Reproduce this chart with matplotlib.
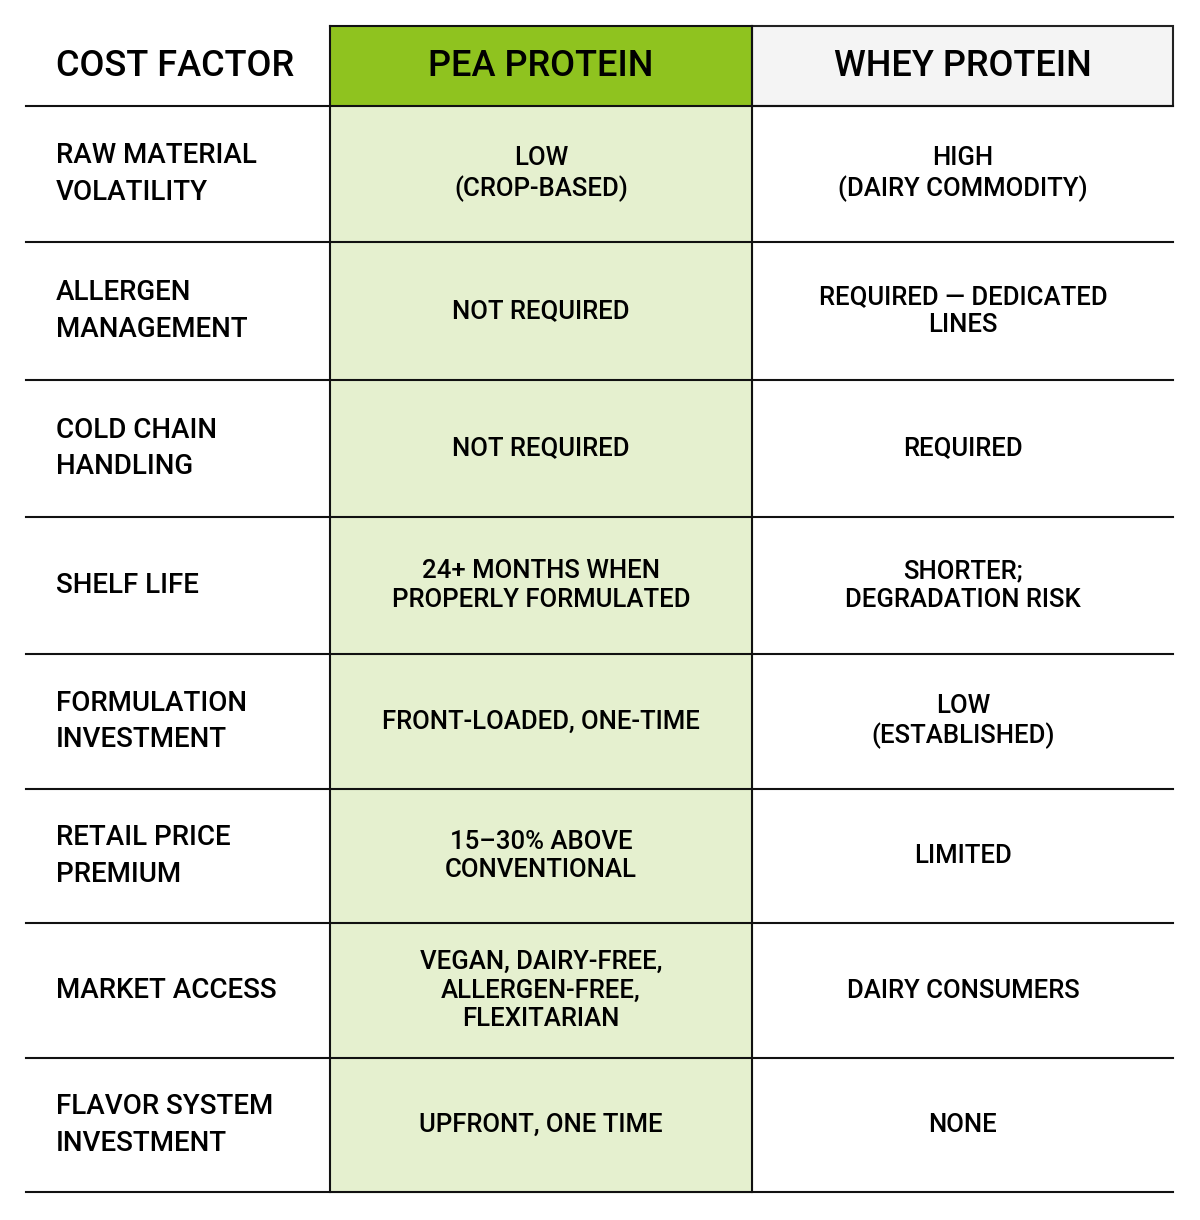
import matplotlib
matplotlib.use("Agg")
import matplotlib.pyplot as plt
from matplotlib.patches import Rectangle

headers = ["COST FACTOR", "PEA PROTEIN", "WHEY PROTEIN"]
factors = ["RAW MATERIAL\nVOLATILITY", "ALLERGEN\nMANAGEMENT", "COLD CHAIN\nHANDLING", "SHELF LIFE",
           "FORMULATION\nINVESTMENT", "RETAIL PRICE\nPREMIUM", "MARKET ACCESS", "FLAVOR SYSTEM\nINVESTMENT"]
pea = ["LOW\n(CROP-BASED)", "NOT REQUIRED", "NOT REQUIRED", "24+ MONTHS WHEN\nPROPERLY FORMULATED",
       "FRONT-LOADED, ONE-TIME", "15–30% ABOVE\nCONVENTIONAL", "VEGAN, DAIRY-FREE,\nALLERGEN-FREE,\nFLEXITARIAN",
       "UPFRONT, ONE TIME"]
whey = ["HIGH\n(DAIRY COMMODITY)", "REQUIRED — DEDICATED\nLINES", "REQUIRED", "SHORTER;\nDEGRADATION RISK",
        "LOW\n(ESTABLISHED)", "LIMITED", "DAIRY CONSUMERS", "NONE"]

fig = plt.figure(figsize=(12, 12.2), dpi=100)
ax = fig.add_axes([0, 0, 1, 1])
ax.set_xlim(0, 1200); ax.set_ylim(1220, 0); ax.axis("off")

xs = [26, 330, 752, 1173]
ys = [26, 106, 242, 380, 517, 654, 789, 923, 1058, 1192]
fam = ["Roboto", "DejaVu Sans"]

ax.add_patch(Rectangle((330, 26), 422, 80, color="#8FC31F", zorder=0))
ax.add_patch(Rectangle((752, 26), 421, 80, facecolor="#F4F4F4", edgecolor="#222", lw=1.5, zorder=1))
ax.add_patch(Rectangle((330, 106), 422, 1086, color="#E5F0CF", zorder=0))

for y in ys[1:]:
    ax.plot([26, 1173], [y, y], color="#111", lw=1.5, zorder=2)
ax.plot([330, 752], [26, 26], color="#111", lw=1.5, zorder=2)
for x in [330, 752]:
    ax.plot([x, x], [26, 1192], color="#111", lw=1.5, zorder=2)

ax.text(56, 67, headers[0], fontsize=26, family=fam, weight="medium", ha="left", va="center")
ax.text(541, 67, headers[1], fontsize=26, family=fam, weight="medium", ha="center", va="center")
ax.text(963, 67, headers[2], fontsize=26, family=fam, weight="medium", ha="center", va="center")

for i in range(len(factors)):
    yc = (ys[i+1] + ys[i+2]) / 2
    ax.text(56, yc, factors[i], fontsize=20, family=fam, weight="medium", ha="left", va="center", linespacing=1.45)
    ax.text(541, yc, pea[i], fontsize=18.5, family=fam, weight="medium", ha="center", va="center", linespacing=1.25)
    ax.text(963, yc, whey[i], fontsize=18.5, family=fam, weight="medium", ha="center", va="center", linespacing=1.25)

fig.savefig("out.png", dpi=100, facecolor="white")
